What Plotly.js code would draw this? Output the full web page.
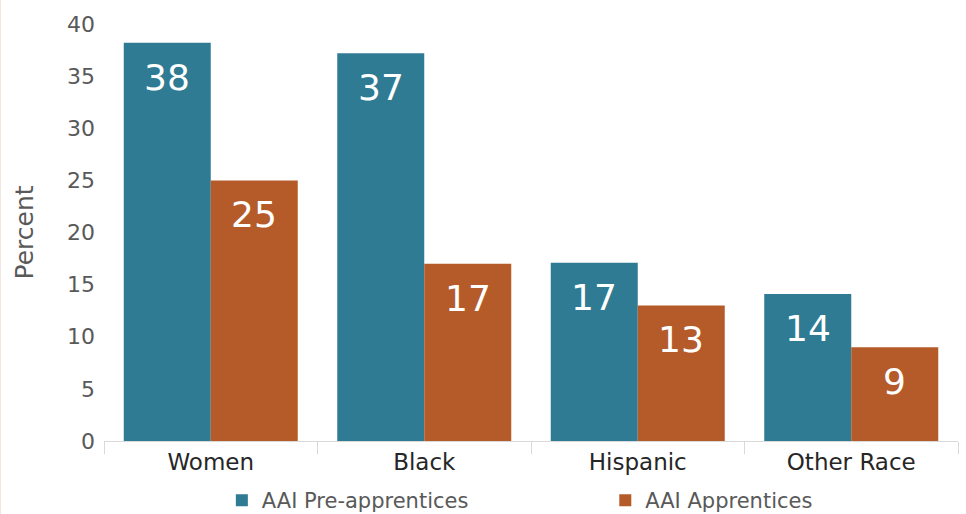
<!DOCTYPE html>
<html><head><meta charset="utf-8">
<script src="https://cdn.plot.ly/plotly-3.0.1.min.js"></script>
<style>html,body{margin:0;padding:0;background:#fff;}#chart{width:966px;height:514px;}</style>
</head><body><div id="chart"></div>
<script>
const categories = ["Women", "Black", "Hispanic", "Other Race"];
const preApprentices = [38.2, 37.2, 17.1, 14.1];
const apprentices = [25.0, 17.0, 13.0, 9.0];
const seriesNames = ["AAI Pre-apprentices", "AAI Apprentices"];
const yTicks = [0, 5, 10, 15, 20, 25, 30, 35, 40];

const FONT = "DejaVu Sans, sans-serif";
const BARGAP = 0.185;
function mk(name, vals, color, leg) {
  return {
    type: "bar", name: name, x: categories, y: vals, legend: leg,
    marker: {color: color, line: {width: 0}},
    hoverinfo: "skip"
  };
}
const data = [mk(seriesNames[0], preApprentices, "#2E7B93", "legend"),
              mk(seriesNames[1], apprentices, "#B55B29", "legend2")];

// value labels placed inside bar tops, derived from the data arrays
const half = (1 - BARGAP) / 4;
const annotations = [];
[preApprentices, apprentices].forEach((vals, s) => {
  vals.forEach((v, i) => {
    annotations.push({
      x: i + (s === 0 ? -half : half), y: v, xref: "x", yref: "y",
      text: String(Math.round(v)), showarrow: false, yanchor: "top", yshift: -12,
      font: {family: FONT, size: 36, color: "#ffffff"}
    });
  });
});

const legFont = {family: FONT, size: 21, color: "#595959"};
const layout = {
  width: 966, height: 514,
  margin: {l: 104, r: 8, t: 24, b: 73, autoexpand: false},
  paper_bgcolor: "#fff", plot_bgcolor: "#fff",
  barmode: "group", bargap: BARGAP, bargroupgap: 0,
  showlegend: true,
  legend: {orientation: "h", x: 0.138, xanchor: "left", y: -0.143, yanchor: "middle",
    itemwidth: 20, font: legFont, bgcolor: "rgba(0,0,0,0)"},
  legend2: {orientation: "h", x: 0.587, xanchor: "left", y: -0.143, yanchor: "middle",
    itemwidth: 20, font: legFont, bgcolor: "rgba(0,0,0,0)"},
  xaxis: {type: "category", showline: true, linecolor: "#d9d9d9", linewidth: 1,
    ticks: "outside", tickson: "boundaries", ticklen: 12, tickcolor: "#d9d9d9",
    tickfont: {family: FONT, size: 23, color: "#262626"}, showgrid: false, zeroline: false},
  yaxis: {range: [0, 40], tickvals: yTicks, showgrid: false, zeroline: false, showline: false,
    ticks: "", ticklabelstandoff: 8,
    tickfont: {family: FONT, size: 22, color: "#595959"},
    title: {text: "Percent", font: {family: FONT, size: 25, color: "#595959"}, standoff: 26}},
  annotations: annotations,
  shapes: [{type: "line", xref: "paper", yref: "paper", x0: -104/854, x1: -104/854, y0: -73/417, y1: 1 + 24/417,
    line: {color: "#f3e4df", width: 2}}]
};
Plotly.newPlot("chart", data, layout, {staticPlot: true});
</script></body></html>
